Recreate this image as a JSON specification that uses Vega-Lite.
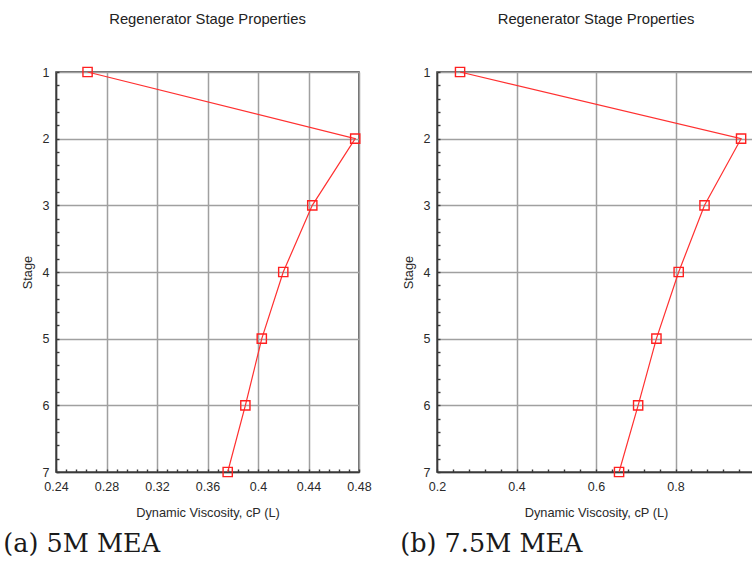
{
  "$schema": "https://vega.github.io/schema/vega-lite/v6.json",
  "background": "white",
  "padding": {"left": 3, "top": 11, "right": 0, "bottom": 0},
  "config": {
    "font": "Liberation Sans",
    "view": {"stroke": "#3a3a3a", "strokeWidth": 1.5},
    "concat": {"spacing": 28},
    "axis": {
      "domainColor": "#3a3a3a",
      "domainWidth": 1.5,
      "tickColor": "#3a3a3a",
      "tickSize": -3,
      "tickWidth": 1.4,
      "labelColor": "#2a2a2a",
      "labelFontSize": 12.5,
      "labelOverlap": false,
      "labelFlush": false,
      "titleColor": "#2a2a2a",
      "titleFontSize": 12.8,
      "titleFontWeight": "normal",
      "gridWidth": 1.5
    }
  },
  "datasets": {
    "a": [
      {"stage": 1, "visc": 0.265},
      {"stage": 2, "visc": 0.477},
      {"stage": 3, "visc": 0.443},
      {"stage": 4, "visc": 0.42},
      {"stage": 5, "visc": 0.403},
      {"stage": 6, "visc": 0.39},
      {"stage": 7, "visc": 0.376}
    ],
    "b": [
      {"stage": 1, "visc": 0.258},
      {"stage": 2, "visc": 0.965},
      {"stage": 3, "visc": 0.873},
      {"stage": 4, "visc": 0.808},
      {"stage": 5, "visc": 0.752},
      {"stage": 6, "visc": 0.706},
      {"stage": 7, "visc": 0.658}
    ]
  },
  "hconcat": [
    {
      "title": {"text": "(a) 5M MEA", "orient": "bottom", "anchor": "start", "font": "DejaVu Serif", "fontSize": 25.5, "fontWeight": "normal", "color": "#1a1a1a", "offset": 12, "dx": -17},
      "vconcat": [
        {
          "title": {"text": "Regenerator Stage Properties", "fontSize": 14.8, "fontWeight": "normal", "color": "#222", "offset": 38},
          "width": 303,
          "height": 400,
          "data": {"name": "a"},
          "encoding": {
            "x": {
              "field": "visc", "type": "quantitative",
              "scale": {"domain": [0.24, 0.48], "nice": false, "zero": false},
              "axis": {
                "title": "Dynamic Viscosity, cP (L)",
                "values": [0.24,0.248,0.256,0.264,0.272,0.28,0.288,0.296,0.304,0.312,0.32,0.328,0.336,0.344,0.352,0.36,0.368,0.376,0.384,0.392,0.4,0.408,0.416,0.424,0.432,0.44,0.448,0.456,0.464,0.472,0.48],
                "labelExpr": "abs(datum.value*25 - round(datum.value*25)) < 0.01 ? format(datum.value, '~g') : ''",
                "gridColor": {"condition": {"test": "abs(datum.value*25 - round(datum.value*25)) < 0.01", "value": "#a0a0a0"}, "value": "transparent"},
                "labelPadding": 11,
                "titlePadding": 14
              }
            },
            "y": {
              "field": "stage", "type": "quantitative",
              "scale": {"domain": [1, 7], "reverse": true, "nice": false, "zero": false},
              "axis": {
                "title": "Stage",
                "values": [1,1.2,1.4,1.6,1.8,2,2.2,2.4,2.6,2.8,3,3.2,3.4,3.6,3.8,4,4.2,4.4,4.6,4.8,5,5.2,5.4,5.6,5.8,6,6.2,6.4,6.6,6.8,7],
                "labelExpr": "abs(datum.value - round(datum.value)) < 0.01 ? format(datum.value, 'd') : ''",
                "gridColor": {"condition": {"test": "abs(datum.value - round(datum.value)) < 0.01", "value": "#a0a0a0"}, "value": "transparent"},
                "labelPadding": 10,
                "titlePadding": 8
              }
            }
          },
          "layer": [
            {"mark": {"type": "line", "color": "#ff3030", "strokeWidth": 1.2}, "encoding": {"order": {"field": "stage", "type": "quantitative"}}},
            {"mark": {"type": "point", "shape": "square", "filled": false, "color": "#ff2020", "size": 85, "strokeWidth": 1.4, "opacity": 1}}
          ]
        }
      ]
    },
    {
      "title": {"text": "(b) 7.5M MEA", "orient": "bottom", "anchor": "start", "font": "DejaVu Serif", "fontSize": 25.5, "fontWeight": "normal", "color": "#1a1a1a", "offset": 12, "dx": -1},
      "vconcat": [
        {
          "title": {"text": "Regenerator Stage Properties", "fontSize": 14.8, "fontWeight": "normal", "color": "#222", "offset": 38},
          "width": 318,
          "height": 400,
          "data": {"name": "b"},
          "encoding": {
            "x": {
              "field": "visc", "type": "quantitative",
              "scale": {"domain": [0.2, 1.0], "nice": false, "zero": false},
              "axis": {
                "title": "Dynamic Viscosity, cP (L)",
                "values": [0.2,0.24,0.28,0.32,0.36,0.4,0.44,0.48,0.52,0.56,0.6,0.64,0.68,0.72,0.76,0.8,0.84,0.88,0.92,0.96,1.0],
                "labelExpr": "abs(datum.value*5 - round(datum.value*5)) < 0.01 ? format(datum.value, '~g') : ''",
                "gridColor": {"condition": {"test": "abs(datum.value*5 - round(datum.value*5)) < 0.01", "value": "#a0a0a0"}, "value": "transparent"},
                "labelPadding": 11,
                "titlePadding": 14
              }
            },
            "y": {
              "field": "stage", "type": "quantitative",
              "scale": {"domain": [1, 7], "reverse": true, "nice": false, "zero": false},
              "axis": {
                "title": "Stage",
                "values": [1,1.2,1.4,1.6,1.8,2,2.2,2.4,2.6,2.8,3,3.2,3.4,3.6,3.8,4,4.2,4.4,4.6,4.8,5,5.2,5.4,5.6,5.8,6,6.2,6.4,6.6,6.8,7],
                "labelExpr": "abs(datum.value - round(datum.value)) < 0.01 ? format(datum.value, 'd') : ''",
                "gridColor": {"condition": {"test": "abs(datum.value - round(datum.value)) < 0.01", "value": "#a0a0a0"}, "value": "transparent"},
                "labelPadding": 10,
                "titlePadding": 8
              }
            }
          },
          "layer": [
            {"mark": {"type": "line", "color": "#ff3030", "strokeWidth": 1.2}, "encoding": {"order": {"field": "stage", "type": "quantitative"}}},
            {"mark": {"type": "point", "shape": "square", "filled": false, "color": "#ff2020", "size": 85, "strokeWidth": 1.4, "opacity": 1}}
          ]
        }
      ]
    }
  ]
}
